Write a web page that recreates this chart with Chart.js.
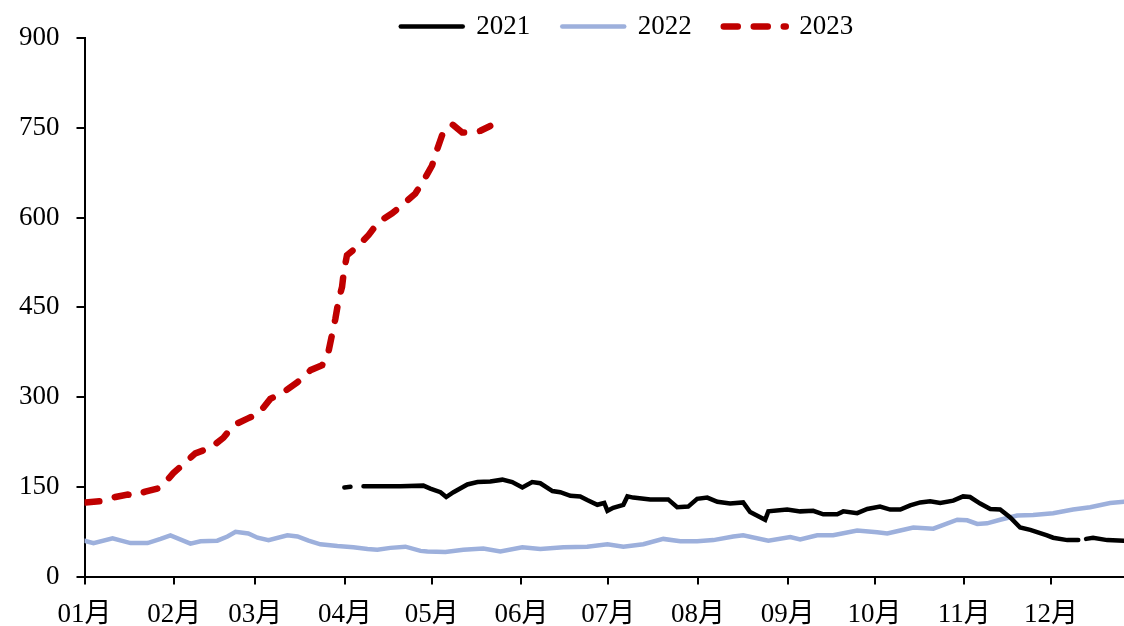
<!DOCTYPE html>
<html>
<head>
<meta charset="utf-8">
<script src="https://cdn.jsdelivr.net/npm/chart.js@4.4.1/dist/chart.umd.min.js"></script>
<style>
  body { margin: 0; background: #fff; }
</style>
</head>
<body>
<canvas id="chart" width="1124" height="626"></canvas>
<script>
// 月份刻度（一年中的第几天）
const monthStarts = [0, 31, 59, 90, 120, 151, 181, 212, 243, 273, 304, 334];
const monthLabels = ['01月', '02月', '03月', '04月', '05月', '06月', '07月', '08月', '09月', '10月', '11月', '12月'];

// 2021
const days2021 = [89.8, 91.9, 95, 96.4, 102.2, 109.2, 117.1, 119.5, 123, 125, 127.5, 132.3, 135.8, 140.2, 144.4, 147.8, 151.3, 154.7, 157.5, 161.7, 164.4, 167.9, 171.3, 173.7, 177.2, 179.6, 180.7, 182.7, 186.2, 187.6, 189.6, 195.5, 201.7, 204.8, 208.6, 211.7, 215.2, 218.7, 223.1, 227.6, 230, 235.2, 236.3, 242.8, 247.3, 251.8, 255.3, 260.1, 262.2, 267, 270.5, 274.9, 278.4, 281.9, 285.3, 288.8, 292.2, 295.7, 300.2, 303.6, 306, 309.5, 313, 316.4, 319.9, 323.3, 326.8, 332.6, 334.7, 339.6, 343.4, 344.8, 346.1, 348.5, 353.4, 359.2];
const vals2021 = [149, 150, null, 151, 151, 151, 152, 147, 141, 133, 141, 154, 158, 159, 162, 158, 149, 158, 156, 143, 141, 135, 134, 128, 120, 123, 110, 115, 120, 134, 132, 129, 129, 116, 117, 130, 132, 125, 122, 124, 108, 95, 109, 112, 109, 110, 104, 104, 109, 106, 113, 117, 112, 112, 119, 124, 126, 123, 127, 134, 133, 122, 113, 112, 99, 82, 78, 69, 65, 61, 61, null, 63, 65, 61, 60];

// 2022
const days2022 = [0, 3.1, 9.7, 15.9, 21.8, 26.3, 29.7, 36.6, 40.1, 45.9, 49.4, 52.2, 56.6, 59.8, 63.6, 70.1, 73.6, 77.4, 81.5, 87.4, 92.9, 97.8, 101.2, 105.7, 110.9, 116.1, 118.5, 124.7, 130.9, 137.8, 143.7, 151.3, 157.5, 165.5, 173.7, 180.7, 186.2, 193.1, 200, 205.9, 211.7, 217.3, 224.2, 227.6, 236.3, 243.9, 247.3, 253.2, 258.7, 267, 273.9, 277.4, 281.9, 286.4, 293.3, 301.6, 305, 308.5, 311.9, 316.4, 322.3, 327.8, 334.7, 341.6, 347.5, 354.4, 359.2];
const vals2022 = [60, 56, 64, 56, 56, 63, 69, 55, 59, 60, 67, 75, 72, 65, 61, 69, 67, 60, 54, 51, 49, 46, 45, 48, 50, 43, 42, 41, 45, 47, 42, 49, 46, 49, 50, 54, 50, 54, 63, 59, 59, 61, 67, 69, 60, 66, 62, 69, 69, 77, 74, 72, 77, 82, 80, 95, 94, 88, 89, 95, 102, 103, 106, 112, 116, 123, 125];

// 2023
const days2023 = [0.3, 5.5, 10.7, 14.9, 16.9, 21, 25.2, 26.9, 30.7, 34.2, 38.3, 43.5, 48, 51.5, 56.3, 60.1, 64.2, 68.7, 73.6, 78.1, 82.1, 84.4, 85.6, 86.7, 87.8, 89, 89.6, 90.7, 94.2, 98.2, 101.7, 106.3, 110.3, 114.3, 117.2, 120.1, 121.8, 123.6, 127, 130.5, 133.3, 136.8, 140.2];
const vals2023 = [124, 126, 133, 137, 135, 142, 147, 152, 173, 188, 206, 215, 232, 253, 264, 272, 297, 308, 325, 345, 353, 378, 406, 431, 462, 484, 509, 537, 551, 571, 593, 607, 623, 640, 662, 687, 713, 738, 756, 742, 742, 745, 753];

const yTicks = [0, 150, 300, 450, 600, 750, 900];

function toPoints(days, vals) {
  return days.map((d, i) => ({ x: d, y: vals[i] }));
}

const fontFamily = '"Liberation Serif", "Times New Roman", "Noto Sans CJK SC", serif';

// 图例整体右移，与原图位置一致
const legendShift = {
  id: 'legendShift',
  afterLayout(chart) {
    chart.legend.left += 128;
  }
};

new Chart(document.getElementById('chart').getContext('2d'), {
  type: 'line',
  data: {
    datasets: [
      {
        label: '2021',
        data: toPoints(days2021, vals2021),
        borderColor: '#000000',
        backgroundColor: '#000000',
        borderWidth: 4.5,
        borderCapStyle: 'round',
        pointRadius: 0,
        spanGaps: false
      },
      {
        label: '2022',
        data: toPoints(days2022, vals2022),
        borderColor: '#9db0dc',
        backgroundColor: '#9db0dc',
        borderWidth: 4.5,
        borderCapStyle: 'round',
        pointRadius: 0
      },
      {
        label: '2023',
        data: toPoints(days2023, vals2023),
        borderColor: '#c00000',
        backgroundColor: '#c00000',
        borderWidth: 6.5,
        borderDash: [14, 16],
        borderCapStyle: 'round',
        pointRadius: 0
      }
    ]
  },
  options: {
    responsive: false,
    animation: false,
    layout: { padding: { top: -19, left: 2, right: 0, bottom: -19 } },
    plugins: {
      tooltip: { enabled: false },
      legend: {
        position: 'top',
        maxHeight: 57,
        labels: {
          usePointStyle: true,
          pointStyle: 'line',
          pointStyleWidth: 62,
          padding: 32,
          color: '#000',
          font: { family: fontFamily, size: 27 },
          generateLabels: chart => chart.data.datasets.map((ds, i) => ({
            text: ds.label,
            datasetIndex: i,
            hidden: false,
            fillStyle: ds.borderColor,
            strokeStyle: ds.borderColor,
            lineWidth: ds.borderWidth,
            lineDash: ds.borderDash || [],
            lineCap: ds.borderCapStyle || 'butt',
            pointStyle: 'line',
            fontColor: '#000'
          }))
        }
      }
    },
    scales: {
      x: {
        type: 'linear',
        min: 0,
        max: 359.2,
        afterBuildTicks: scale => {
          scale.ticks = monthStarts.map(v => ({ value: v }));
        },
        ticks: {
          autoSkip: false,
          maxRotation: 0,
          padding: 14,
          color: '#000',
          font: { family: fontFamily, size: 27 },
          callback: (value, index) => monthLabels[index]
        },
        grid: { drawOnChartArea: false, tickLength: 8, color: '#000', lineWidth: 2 },
        border: { color: '#000', width: 2 }
      },
      y: {
        min: 0,
        max: 900,
        afterBuildTicks: scale => {
          scale.ticks = yTicks.map(v => ({ value: v }));
        },
        ticks: {
          padding: 17,
          color: '#000',
          font: { family: fontFamily, size: 27 }
        },
        grid: { drawOnChartArea: false, tickLength: 8, color: '#000', lineWidth: 2 },
        border: { color: '#000', width: 2 }
      }
    }
  },
  plugins: [legendShift]
});
</script>
</body>
</html>
